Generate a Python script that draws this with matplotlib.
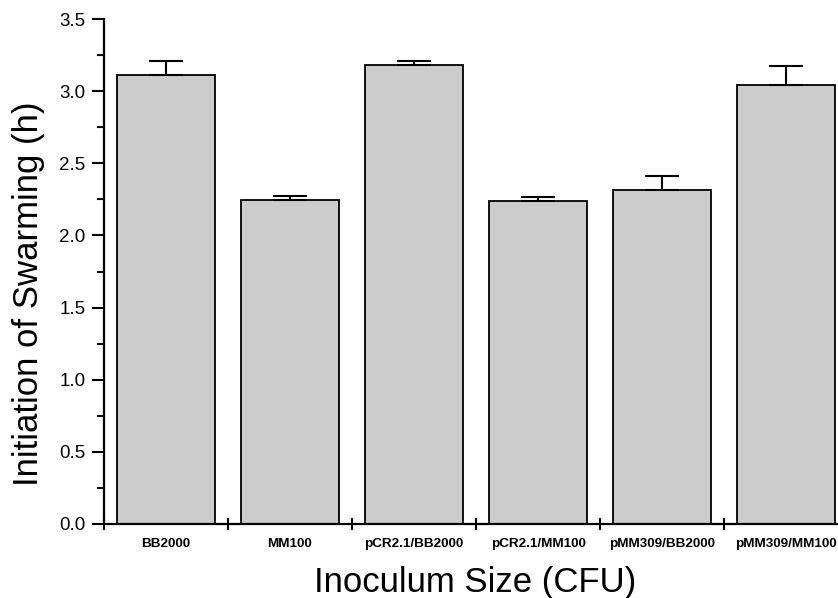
import matplotlib
matplotlib.use("Agg")
import matplotlib.pyplot as plt
import numpy as np

categories = ["BB2000", "MM100", "pCR2.1/BB2000", "pCR2.1/MM100", "pMM309/BB2000", "pMM309/MM100"]
means = [3.11, 2.243, 3.183, 2.238, 2.312, 3.042]
errors = [0.10, 0.032, 0.028, 0.030, 0.102, 0.132]

plt.rcParams['font.family'] = ['Liberation Sans', 'DejaVu Sans']

fig = plt.figure(figsize=(8.38, 5.98), dpi=100)
ax = fig.add_axes([104/838, 74/598, 744/838, 505/598])

x = np.arange(len(categories)) + 0.5
ax.bar(x, means, width=0.79, color="#cccccc", edgecolor="black", linewidth=1.3, zorder=2)
ax.errorbar(x, means, yerr=[np.zeros(len(errors)), errors], fmt="none", ecolor="black",
            elinewidth=1.5, capsize=12, capthick=1.5, zorder=3)

ax.set_xlim(0, 6)
ax.set_ylim(0, 3.5)
ax.spines['top'].set_visible(False)
ax.spines['right'].set_visible(False)
ax.spines['left'].set_linewidth(1.6)
ax.spines['bottom'].set_linewidth(1.6)

ax.set_yticks(np.arange(0, 3.51, 0.5))
ax.set_yticklabels([f"{v:.1f}" for v in np.arange(0, 3.51, 0.5)], fontsize=13.5)
ax.set_yticks(np.arange(0.25, 3.5, 0.5), minor=True)
ax.tick_params(axis='y', which='major', direction='out', length=8.5, width=1.5, pad=5)
ax.tick_params(axis='y', which='minor', direction='out', length=5, width=1.5)

ax.set_xticks(np.arange(0, 7))
ax.set_xticklabels([])
ax.tick_params(axis='x', which='major', direction='inout', length=9, width=1.5)
ax.set_xticks(x, minor=True)
ax.set_xticklabels(categories, minor=True, fontsize=9.7, fontweight='bold')
ax.tick_params(axis='x', which='minor', length=0, pad=10)

ax.set_ylabel("Initiation of Swarming (h)", fontsize=25)
ax.yaxis.set_label_coords((45-104)/744, (304-74)/505)
ax.set_xlabel("Inoculum Size (CFU)", fontsize=25)
ax.xaxis.set_label_coords((475-104)/744, -42/505)

fig.savefig("out.png", dpi=100)
